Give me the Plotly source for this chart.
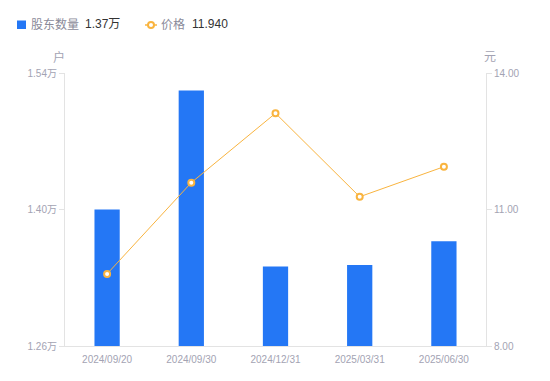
import plotly.graph_objects as go

dates = ["2024/09/20", "2024/09/30", "2024/12/31", "2025/03/31", "2025/06/30"]
holders = [1.400, 1.522, 1.3415, 1.3432, 1.3674]  # 万户
price = [9.585, 11.59, 13.115, 11.28, 11.94]

left_ticks = [1.26, 1.40, 1.54]
left_labels = ["1.26万", "1.40万", "1.54万"]
right_ticks = [8.0, 11.0, 14.0]
right_labels = ["8.00", "11.00", "14.00"]

BLUE = "#2477F5"
ORANGE = "#F9B43F"
GRAY = "#A3A3B3"
FONT = "Liberation Sans, Noto Sans CJK SC, sans-serif"

# page has an 8px body margin; plot area in page coords: x 65..486, y 73..346
fig = go.Figure()
fig.add_trace(go.Bar(x=dates, y=holders, marker=dict(color=BLUE, line=dict(width=0)),
                     width=0.3, showlegend=False, hoverinfo="skip"))
fig.add_trace(go.Scatter(x=dates, y=price, yaxis="y2", mode="lines+markers",
                         line=dict(color=ORANGE, width=1),
                         marker=dict(symbol="circle", size=6, color="white",
                                     line=dict(color=ORANGE, width=2)),
                         showlegend=False, hoverinfo="skip"))

fig.update_layout(
    width=542, height=373,
    margin=dict(l=57, r=64, t=65, b=35),
    paper_bgcolor="white", plot_bgcolor="white",
    font=dict(family=FONT, size=10, color=GRAY),
    xaxis=dict(type="category", showgrid=False, showline=True, linecolor="#E3E3E3",
               linewidth=1, ticks="", tickfont=dict(size=10, color=GRAY), ticklabelstandoff=4,
               zeroline=False),
    yaxis=dict(range=[1.26, 1.54], tickvals=left_ticks, ticktext=left_labels,
               showgrid=False, zeroline=False, showline=True, linecolor="#E3E3E3",
               ticks="outside", ticklen=5, tickcolor="#E3E3E3",
               tickfont=dict(size=10, color=GRAY)),
    yaxis2=dict(range=[8, 14], tickvals=right_ticks, ticktext=right_labels,
                overlaying="y", side="right", showgrid=False, zeroline=False,
                showline=True, linecolor="#E3E3E3", ticks="outside", ticklen=5,
                tickcolor="#E3E3E3", tickfont=dict(size=10, color=GRAY)),
)

def px(x):
    return (x - 65) / 421

def py(y):
    return (346 - y) / 273

# legend (manual)
fig.add_shape(type="rect", xref="paper", yref="paper",
              x0=px(17), x1=px(26), y0=py(29), y1=py(20.5),
              fillcolor=BLUE, line=dict(width=0))
fig.add_shape(type="line", xref="paper", yref="paper",
              x0=px(145), x1=px(157), y0=py(25), y1=py(25),
              line=dict(color=ORANGE, width=1.5))
fig.add_shape(type="circle", xref="paper", yref="paper",
              x0=px(148), x1=px(154), y0=py(28), y1=py(22),
              fillcolor="white", line=dict(color=ORANGE, width=2))

def ann(x, y, text, color, size, xanchor="left"):
    fig.add_annotation(xref="paper", yref="paper", x=px(x), y=py(y),
                       text=text, showarrow=False, xanchor=xanchor, yanchor="middle",
                       font=dict(size=size, color=color, family=FONT))

ann(29, 24.5, "股东数量", "#8A8A99", 12)
ann(83, 24.5, "1.37万", "#333333", 12)
ann(159, 24.5, "价格", "#8A8A99", 12)
ann(190, 24.5, "11.940", "#333333", 12)
ann(59, 57, "户", GRAY, 12, "center")
ann(490, 57, "元", GRAY, 12, "center")

fig.write_html("out.html")
